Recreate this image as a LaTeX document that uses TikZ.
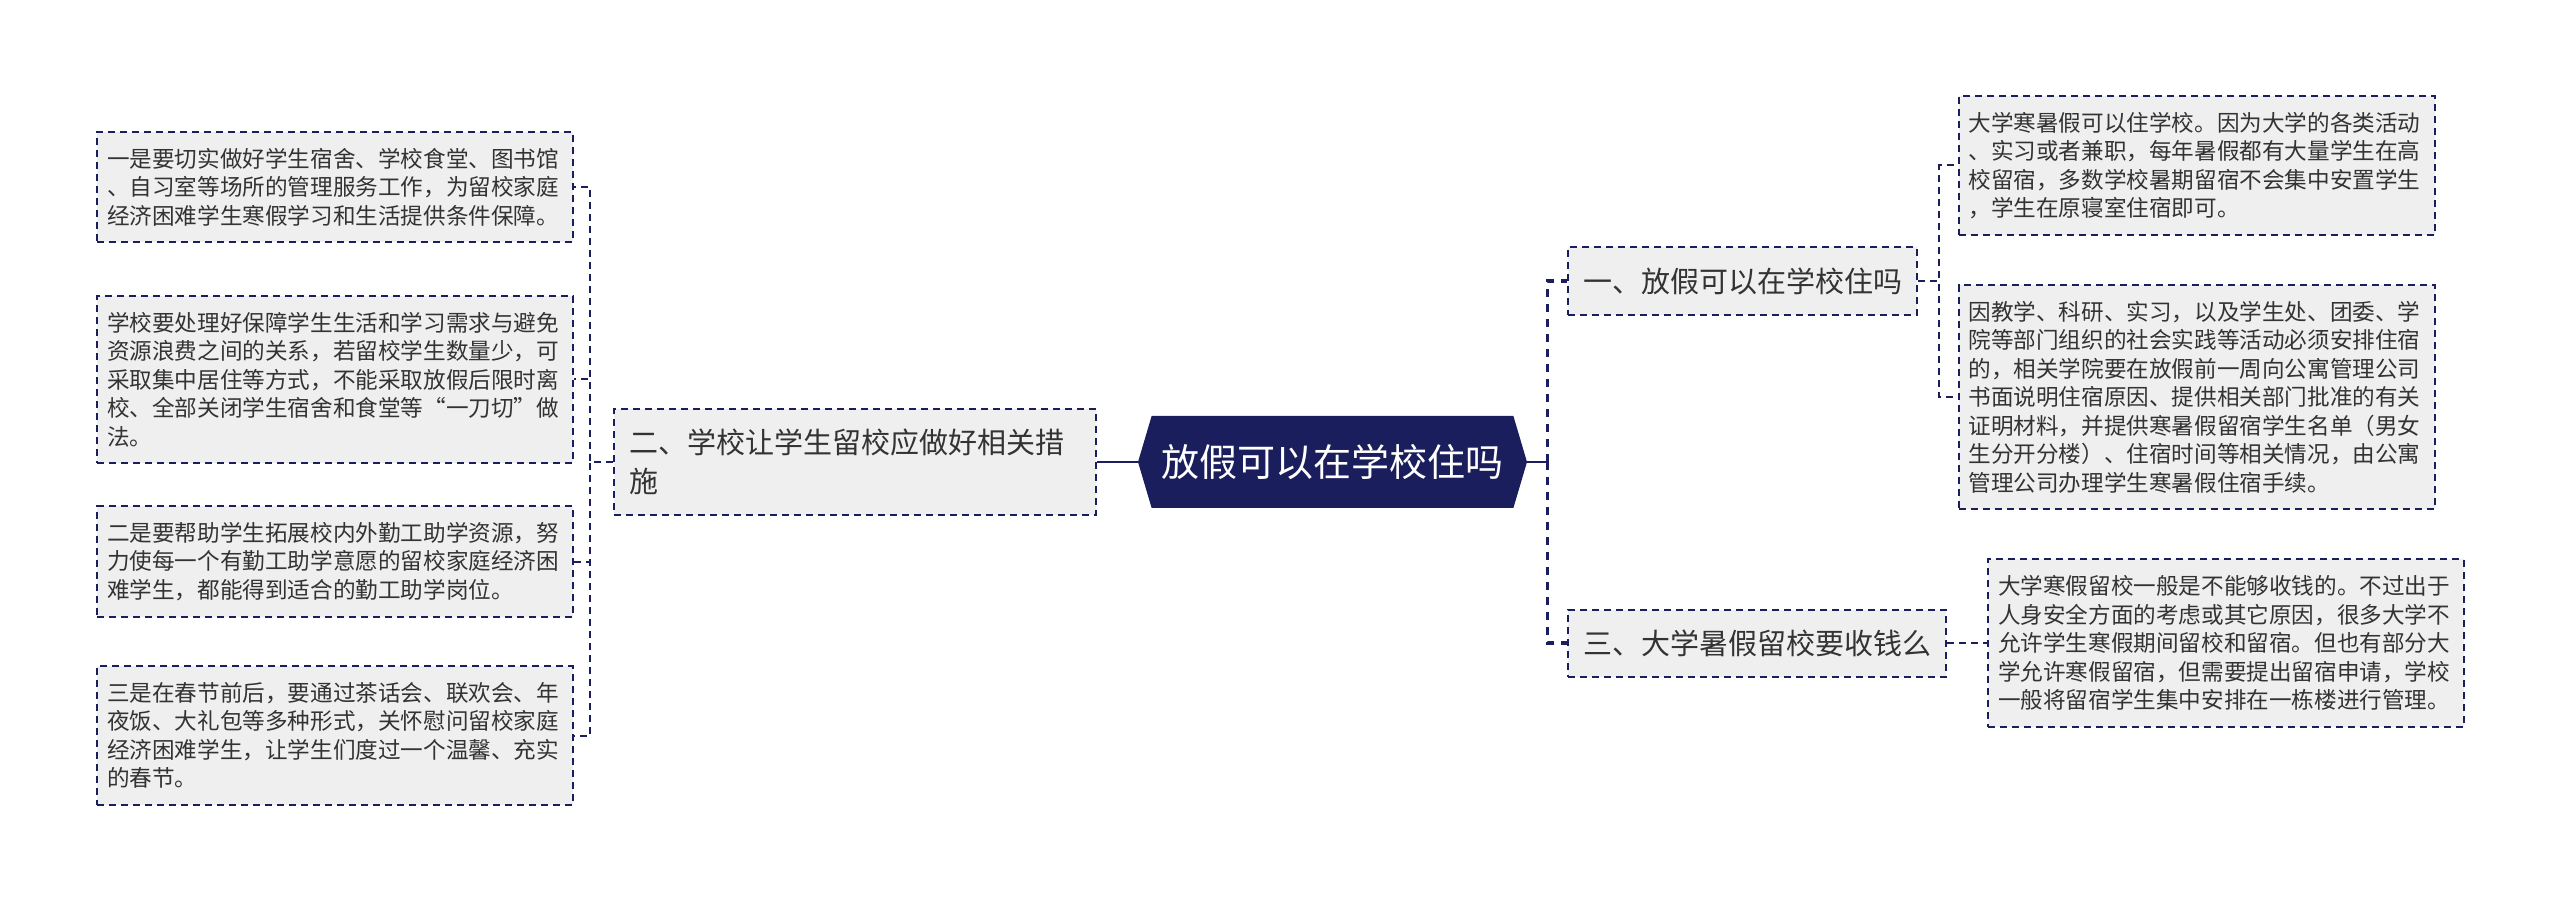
\documentclass[tikz,border=0pt]{standalone}
\usepackage{fontspec}
\setmainfont{Noto Sans CJK SC}
\usetikzlibrary{shapes.symbols}
\definecolor{navy}{HTML}{1A1E5C}
\definecolor{boxgray}{HTML}{EFEFEF}
\definecolor{txt}{HTML}{333333}
\tikzset{
  leaf/.style={draw=navy,fill=boxgray,dash pattern=on 3.5pt off 2.5pt,line width=1pt,text=txt,
    font=\fontsize{11.3}{14.25}\selectfont,text width=228pt,align=left,inner xsep=5pt,inner ysep=8pt},
  branch/.style={draw=navy,fill=boxgray,dash pattern=on 3.5pt off 2.5pt,line width=1pt,text=txt,
    font=\fontsize{14.5}{19.5}\selectfont,inner xsep=7.5pt,inner ysep=10pt},
  topic/.style={signal,signal to=east and west,signal pointer angle=147,fill=navy,text=white,
    font=\fontsize{19}{23}\selectfont,minimum width=194.5pt,minimum height=46pt,inner sep=0pt},
  thinlink/.style={navy,line width=1pt,dash pattern=on 3.5pt off 2.5pt},
  thicklink/.style={navy,line width=1.9pt,dash pattern=on 4pt off 3.5pt},
  solidlink/.style={navy,line width=1.3pt}
}
\begin{document}
\begin{tikzpicture}[x=0.5pt,y=-0.5pt]
\useasboundingbox (0,0) rectangle (2560,903);
\node[topic] (c) at (1332.5,462) {放假可以在学校住吗};
\node[branch,text width=226pt,align=left] (b2) at (855,462) {二、学校让学生留校应做好相关措\\施};
\node[branch] (b1) at (1742.5,281) {一、放假可以在学校住吗};
\node[branch] (b3) at (1757,643) {三、大学暑假留校要收钱么};
\node[leaf] (l1) at (335,187) {一是要切实做好学生宿舍、学校食堂、图书馆\\、自习室等场所的管理服务工作，为留校家庭\\经济困难学生寒假学习和生活提供条件保障。};
\node[leaf] (l2) at (335,379.5) {学校要处理好保障学生生活和学习需求与避免\\资源浪费之间的关系，若留校学生数量少，可\\采取集中居住等方式，不能采取放假后限时离\\校、全部关闭学生宿舍和食堂等“一刀切”做\\法。};
\node[leaf] (l3) at (335,561.5) {二是要帮助学生拓展校内外勤工助学资源，努\\力使每一个有勤工助学意愿的留校家庭经济困\\难学生，都能得到适合的勤工助学岗位。};
\node[leaf] (l4) at (335,735.5) {三是在春节前后，要通过茶话会、联欢会、年\\夜饭、大礼包等多种形式，关怀慰问留校家庭\\经济困难学生，让学生们度过一个温馨、充实\\的春节。};
\node[leaf] (r1) at (2196.5,165.5) {大学寒暑假可以住学校。因为大学的各类活动\\、实习或者兼职，每年暑假都有大量学生在高\\校留宿，多数学校暑期留宿不会集中安置学生\\，学生在原寝室住宿即可。};
\node[leaf] (r2) at (2196.5,397) {因教学、科研、实习，以及学生处、团委、学\\院等部门组织的社会实践等活动必须安排住宿\\的，相关学院要在放假前一周向公寓管理公司\\书面说明住宿原因、提供相关部门批准的有关\\证明材料，并提供寒暑假留宿学生名单（男女\\生分开分楼）、住宿时间等相关情况，由公寓\\管理公司办理学生寒暑假住宿手续。};
\node[leaf] (r3) at (2226,643) {大学寒假留校一般是不能够收钱的。不过出于\\人身安全方面的考虑或其它原因，很多大学不\\允许学生寒假期间留校和留宿。但也有部分大\\学允许寒假留宿，但需要提出留宿申请，学校\\一般将留宿学生集中安排在一栋楼进行管理。};
\draw[solidlink] (b2.east) -- (c.west);
\draw[solidlink] (c.east) -- ++(20,0) coordinate (cr);
\draw[thicklink] (cr) |- (b1.west);
\draw[thicklink] (cr) |- (b3.west);
\draw[thinlink] (b1.east) -- ++(21,0) |- (r1.west);
\draw[thinlink] (b1.east) -- ++(21,0) |- (r2.west);
\draw[thinlink] (b3.east) -- (r3.west);
\draw[thinlink] (b2.west) -- ++(-23,0) |- (l1.east);
\draw[thinlink] (b2.west) -- ++(-23,0) |- (l2.east);
\draw[thinlink] (b2.west) -- ++(-23,0) |- (l3.east);
\draw[thinlink] (b2.west) -- ++(-23,0) |- (l4.east);
\end{tikzpicture}
\end{document}
